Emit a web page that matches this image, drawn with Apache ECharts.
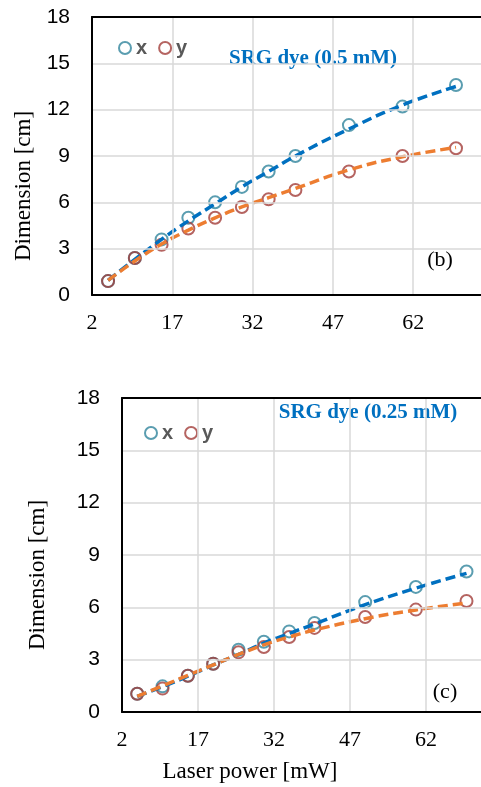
<!DOCTYPE html>
<html>
<head>
<meta charset="utf-8">
<script src="https://cdn.jsdelivr.net/npm/echarts@6/dist/echarts.min.js"></script>
<style>
html,body{margin:0;padding:0;background:#fff;}
#c{width:481px;height:787px;}
</style>
</head>
<body>
<div id="c"></div>
<script>
// Laser power values (mW)
const power = [5, 10, 15, 20, 25, 30, 35, 40, 50, 60, 70];
const xTicks = [2, 17, 32, 47, 62];
const yTicks = [0, 3, 6, 9, 12, 15, 18];

// Panel (b): SRG dye 0.5 mM
const bX = [0.9, 2.4, 3.6, 5.0, 6.0, 7.0, 8.0, 9.0, 11.0, 12.2, 13.6];
const bY = [0.9, 2.4, 3.25, 4.3, 5.0, 5.7, 6.2, 6.8, 8.0, 9.0, 9.5];
const bTrendX = [0.95, 2.3, 3.6, 4.8, 5.9, 7.0, 8.0, 9.0, 10.75, 12.3, 13.5];
const bTrendY = [0.95, 2.2, 3.3, 4.2, 5.0, 5.7, 6.3, 6.9, 8.1, 8.95, 9.55];

// Panel (c): SRG dye 0.25 mM
const cX = [1.05, 1.47, 2.08, 2.77, 3.57, 4.03, 4.62, 5.1, 6.3, 7.17, 8.05];
const cY = [1.05, 1.34, 2.08, 2.77, 3.42, 3.73, 4.3, 4.82, 5.45, 5.87, 6.36];
const cTrendX = [0.9, 1.45, 2.05, 2.7, 3.3, 3.95, 4.5, 5.05, 6.15, 7.1, 7.95];
const cTrendY = [0.9, 1.5, 2.1, 2.7, 3.3, 3.85, 4.3, 4.7, 5.35, 5.85, 6.25];

const titles = ['SRG dye (0.5 mM)', 'SRG dye (0.25 mM)'];
const panelLabels = ['(b)', '(c)'];
const legendNames = ['x', 'y'];

const pair = arr => power.map((p, i) => [p, arr[i]]);

const COL_X = '#31859C', COL_Y = '#A33D3A';
const LINE_X = '#0070C0', LINE_Y = '#ED7D31';
const SERIF = '"Liberation Serif", "Times New Roman", serif';
const SANS = '"Liberation Sans", Arial, sans-serif';
const BLACK_LINE = { show: true, onZero: false, lineStyle: { color: '#000', width: 2 } };

// visible x range is cut by the picture's right edge
const xMax = [74.67, 72.86];

function xAxisCfg(gi) {
  return {
    type: 'value', gridIndex: gi, min: xTicks[0], max: xMax[gi], interval: 15, position: 'bottom',
    axisLine: BLACK_LINE, axisTick: { show: false },
    axisLabel: { fontFamily: SERIF, fontSize: 22, color: '#000', margin: 17, showMaxLabel: false,
      formatter: v => xTicks.includes(v) ? String(v) : '' },
    splitLine: { show: true, showMinLine: false, showMaxLine: false, lineStyle: { color: '#d9d9d9', width: 1.5 } },
    z: 5
  };
}
function xTopCfg(gi) {
  return {
    type: 'value', gridIndex: gi, min: xTicks[0], max: xMax[gi], position: 'top',
    axisLine: BLACK_LINE, axisTick: { show: false }, axisLabel: { show: false },
    splitLine: { show: false }, z: 5
  };
}
function yAxisCfg(gi) {
  return {
    type: 'value', gridIndex: gi, min: yTicks[0], max: yTicks[yTicks.length - 1], interval: 3,
    axisLine: BLACK_LINE, axisTick: { show: false },
    axisLabel: { fontFamily: SANS, fontSize: 21, color: '#000', margin: 22 },
    splitLine: { show: true, showMinLine: false, showMaxLine: false, lineStyle: { color: '#d9d9d9', width: 1.5 } },
    z: 5
  };
}
function scatter(name, gi, data, col) {
  return {
    name, type: 'scatter', xAxisIndex: gi, yAxisIndex: gi, data,
    symbol: 'circle', symbolSize: 12, z: 3,
    itemStyle: { color: 'rgba(255,255,255,0)', borderColor: col, borderWidth: 2 }
  };
}
function trend(name, gi, data, col) {
  return {
    name, type: 'line', xAxisIndex: gi, yAxisIndex: gi, data, smooth: 0.5,
    showSymbol: false, symbol: 'none', z: 4, silent: true,
    lineStyle: { color: col, width: 3.5, type: [10, 5] }
  };
}

const legendText = { fontFamily: SANS, fontWeight: 'bold', fontSize: 20, color: '#595959' };

const chart = echarts.init(document.getElementById('c'), null, { renderer: 'canvas' });
chart.setOption({
  animation: false,
  backgroundColor: '#fff',
  grid: [
    { left: 92, top: 17, width: 389, height: 278 },
    { left: 122, top: 398, width: 359, height: 314 }
  ],
  xAxis: [xAxisCfg(0), xAxisCfg(1), xTopCfg(0), xTopCfg(1)],
  yAxis: [yAxisCfg(0), yAxisCfg(1)],
  legend: [
    { data: legendNames, left: 113, top: 33, itemWidth: 12, itemHeight: 12, itemGap: 11, textStyle: legendText },
    { data: legendNames, left: 139, top: 418, itemWidth: 12, itemHeight: 12, itemGap: 11, textStyle: legendText }
  ],
  graphic: [
    { type: 'text', x: 313, y: 59, style: { text: titles[0], font: 'bold 21px ' + SERIF, fill: '#0070C0', textAlign: 'center', textVerticalAlign: 'middle' } },
    { type: 'text', x: 368, y: 413, style: { text: titles[1], font: 'bold 21px ' + SERIF, fill: '#0070C0', textAlign: 'center', textVerticalAlign: 'middle' } },
    { type: 'text', x: 440, y: 260, style: { text: panelLabels[0], font: '22px ' + SERIF, fill: '#000', textAlign: 'center', textVerticalAlign: 'middle' } },
    { type: 'text', x: 445, y: 692, style: { text: panelLabels[1], font: '22px ' + SERIF, fill: '#000', textAlign: 'center', textVerticalAlign: 'middle' } },
    { type: 'text', x: 24, y: 186, rotation: Math.PI / 2, style: { text: 'Dimension [cm]', font: '23px ' + SERIF, fill: '#000', textAlign: 'center', textVerticalAlign: 'middle' } },
    { type: 'text', x: 38, y: 575, rotation: Math.PI / 2, style: { text: 'Dimension [cm]', font: '23px ' + SERIF, fill: '#000', textAlign: 'center', textVerticalAlign: 'middle' } },
    { type: 'text', x: 250, y: 772, style: { text: 'Laser power [mW]', font: '23px ' + SERIF, fill: '#000', textAlign: 'center', textVerticalAlign: 'middle' } }
  ],
  series: [
    scatter('x', 0, pair(bX), COL_X),
    scatter('y', 0, pair(bY), COL_Y),
    trend('trend x (b)', 0, pair(bTrendX), LINE_X),
    trend('trend y (b)', 0, pair(bTrendY), LINE_Y),
    scatter('x', 1, pair(cX), COL_X),
    scatter('y', 1, pair(cY), COL_Y),
    trend('trend x (c)', 1, pair(cTrendX), LINE_X),
    trend('trend y (c)', 1, pair(cTrendY), LINE_Y)
  ]
});
</script>
</body>
</html>
